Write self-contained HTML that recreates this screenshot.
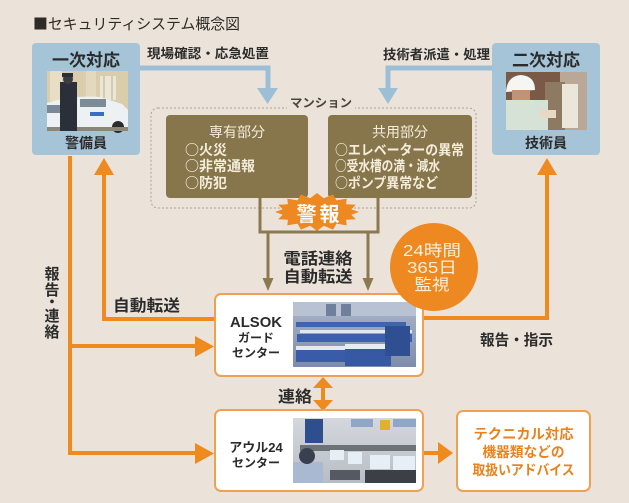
<!DOCTYPE html>
<html><head><meta charset="utf-8">
<style>
html,body{margin:0;padding:0;background:#ebe3d9;}
svg{display:block;}
text{font-family:"Liberation Sans","Noto Sans CJK JP",sans-serif;}
.j{font-family:"Noto Sans CJK JP","Liberation Sans",sans-serif;}
.b{font-weight:bold;}
</style></head>
<body>
<svg width="629" height="503" viewBox="0 0 629 503" xmlns="http://www.w3.org/2000/svg">
<defs>
<linearGradient id="ga" x1="0" y1="0" x2="0" y2="1"><stop offset="0" stop-color="#aab6ca"/><stop offset="1" stop-color="#7d8cab"/></linearGradient>
<linearGradient id="gb" x1="0" y1="0" x2="0" y2="1"><stop offset="0" stop-color="#d4d8de"/><stop offset="1" stop-color="#b8bcc4"/></linearGradient>
</defs>
<rect width="629" height="503" fill="#ebe3d9"/>

<!-- title -->
<text x="33" y="29" font-size="15" class="j" fill="#2e2a26" textLength="207" lengthAdjust="spacingAndGlyphs">■セキュリティシステム概念図</text>

<!-- blue arrows -->
<path d="M139,68 H268 V92" fill="none" stroke="#9dbfd6" stroke-width="5"/>
<polygon points="257,88 278,88 267.5,104" fill="#9dbfd6"/>
<path d="M493,68 H388 V92" fill="none" stroke="#9dbfd6" stroke-width="5"/>
<polygon points="378,88 398,88 388,104" fill="#9dbfd6"/>
<text x="147" y="58" font-size="13" class="b" fill="#2b2b2b" textLength="122" lengthAdjust="spacingAndGlyphs">現場確認・応急処置</text>
<text x="383" y="59" font-size="13" class="b" fill="#2b2b2b" textLength="107" lengthAdjust="spacingAndGlyphs">技術者派遣・処理</text>

<!-- 一次対応 box -->
<rect x="32" y="43" width="108" height="112" rx="4" fill="#a5c4d7"/>
<text x="86" y="66" font-size="17" class="b" fill="#2b2b2b" text-anchor="middle">一次対応</text>
<g>
<rect x="47" y="71" width="81" height="60" fill="#d9cdab"/>
<rect x="50" y="71" width="12" height="30" fill="#e8dec4"/>
<rect x="86" y="71" width="10" height="30" fill="#e4d9bd"/>
<rect x="100" y="76" width="16" height="24" fill="#ece6d6"/>
<line x1="104" y1="76" x2="104" y2="100" stroke="#b8b09a" stroke-width="1"/>
<line x1="112" y1="76" x2="112" y2="100" stroke="#b8b09a" stroke-width="1"/>
<path d="M47,103 Q70,95 100,97 L122,104 L128,110 V127 H47 Z" fill="#eef1f3"/>
<rect x="80" y="99" width="26" height="8" fill="#7d8b98"/>
<rect x="47" y="105" width="14" height="8" fill="#7a8898"/>
<rect x="90" y="112" width="14" height="4" fill="#3a6ec0"/>
<circle cx="118" cy="127" r="6" fill="#2c2c2c"/>
<rect x="47" y="127" width="81" height="4" fill="#8b8676"/>
<rect x="60" y="82" width="17" height="49" fill="#2a2f3a"/>
<circle cx="68" cy="79" r="5" fill="#3b3d44"/>
<rect x="62" y="73" width="11" height="4" fill="#2a2e38"/>
</g>
<text x="86" y="148" font-size="14" class="b" fill="#2b2b2b" text-anchor="middle">警備員</text>

<!-- 二次対応 box -->
<rect x="492" y="43" width="108" height="112" rx="4" fill="#a5c4d7"/>
<text x="546" y="66" font-size="17" class="b" fill="#2b2b2b" text-anchor="middle">二次対応</text>
<g>
<rect x="506" y="72" width="81" height="58" fill="#7a5a46"/>
<rect x="560" y="72" width="27" height="58" fill="#b9a898"/>
<rect x="545" y="82" width="20" height="48" fill="#8e7a62"/>
<rect x="562" y="84" width="16" height="44" fill="#ebe6da"/>
<rect x="506" y="100" width="42" height="30" fill="#d7e2d6"/>
<path d="M506,92 Q507,76 521,75 Q535,76 535,90 Z" fill="#f5f5f2"/>
<rect x="512" y="90" width="18" height="10" fill="#c39274"/>
<rect x="540" y="110" width="16" height="8" fill="#e7d9c4"/>
</g>
<text x="546" y="148" font-size="14" class="b" fill="#2b2b2b" text-anchor="middle">技術員</text>

<!-- mansion dashed box -->
<rect x="151" y="108" width="325" height="100" rx="7" fill="none" stroke="#aaa39a" stroke-width="1" stroke-dasharray="2,2"/>
<rect x="287" y="100" width="68" height="12" fill="#ebe3d9"/>
<text x="321" y="107" font-size="12" class="b" fill="#4b4540" text-anchor="middle" textLength="62" lengthAdjust="spacingAndGlyphs">マンション</text>

<rect x="166" y="115" width="142" height="83" rx="4" fill="#87754b"/>
<text x="237" y="137" font-size="14" fill="#f4eddb" text-anchor="middle">専有部分</text>
<text x="185" y="155" font-size="14" class="b j" fill="#f4eddb">○火災</text>
<text x="185" y="171" font-size="14" class="b j" fill="#f4eddb">○非常通報</text>
<text x="185" y="188" font-size="14" class="b j" fill="#f4eddb">○防犯</text>

<rect x="328" y="115" width="144" height="83" rx="4" fill="#87754b"/>
<text x="400" y="137" font-size="14" fill="#f4eddb" text-anchor="middle">共用部分</text>
<text x="335" y="155" font-size="14" class="b j" fill="#f4eddb" textLength="129" lengthAdjust="spacingAndGlyphs">○エレベーターの異常</text>
<text x="335" y="171" font-size="14" class="b j" fill="#f4eddb" textLength="105" lengthAdjust="spacingAndGlyphs">○受水槽の満・減水</text>
<text x="335" y="188" font-size="14" class="b j" fill="#f4eddb" textLength="103" lengthAdjust="spacingAndGlyphs">○ポンプ異常など</text>

<!-- olive bracket & arrows -->
<path d="M260,198 V232 H378 V198" fill="none" stroke="#8b7a50" stroke-width="3"/>
<path d="M268,232 V281" fill="none" stroke="#8b7a50" stroke-width="3"/>
<polygon points="262.5,278 273.5,278 268,291" fill="#8b7a50"/>
<path d="M368,232 V281" fill="none" stroke="#8b7a50" stroke-width="3"/>
<polygon points="362.5,278 373.5,278 368,291" fill="#8b7a50"/>

<!-- 警報 badge -->
<polygon points="359,212 351.3,214.7 355.8,219.3 346.1,219.8 346.7,225.4 336.5,223.6 333.1,229.6 323.8,225.7 317,231 310.2,225.7 300.9,229.6 297.5,223.6 287.3,225.4 287.9,219.8 278.2,219.3 282.7,214.7 275,212 282.7,209.3 278.2,204.7 287.9,204.2 287.3,198.6 297.5,200.4 300.9,194.4 310.2,198.3 317,193 323.8,198.3 333.1,194.4 336.5,200.4 346.7,198.6 346.1,204.2 355.8,204.7 351.3,209.3" fill="#ee8820"/>
<text x="318" y="221" font-size="20" class="b" fill="#fff" text-anchor="middle" textLength="43" lengthAdjust="spacing">警報</text>

<text x="318" y="264" font-size="16" class="b" fill="#2b2b2b" text-anchor="middle" textLength="69" lengthAdjust="spacingAndGlyphs">電話連絡</text>
<text x="318" y="282" font-size="16" class="b" fill="#2b2b2b" text-anchor="middle" textLength="69" lengthAdjust="spacingAndGlyphs">自動転送</text>

<!-- orange connectors -->
<g stroke="#ef8a1f" stroke-width="4" fill="none">
<path d="M423,318 H547 V172"/>
<path d="M215,319 H104 V172"/>
<path d="M70,156 V453 H198"/>
<path d="M70,346 H198"/>
<path d="M323,386 V402"/>
<path d="M423,453 H440"/>
</g>
<g fill="#ef8a1f">
<polygon points="537,175 557,175 547,158"/>
<polygon points="94,175 114,175 104,158"/>
<polygon points="195,336 195,357 214,346.5"/>
<polygon points="195,443 195,464 214,453.5"/>
<polygon points="313,388 333,388 323,377"/>
<polygon points="313,400 333,400 323,411"/>
<polygon points="438,442 438,464 453,453"/>
</g>

<text x="113" y="311" font-size="16" class="b" fill="#2b2b2b" textLength="67" lengthAdjust="spacingAndGlyphs">自動転送</text>
<text x="480" y="345" font-size="15" class="b" fill="#2b2b2b" textLength="73" lengthAdjust="spacingAndGlyphs">報告・指示</text>
<text x="278" y="402" font-size="16" class="b" fill="#2b2b2b" textLength="34" lengthAdjust="spacingAndGlyphs">連絡</text>
<g font-size="15" class="b" fill="#2b2b2b" text-anchor="middle">
<text x="52" y="279" class="b">報</text>
<text x="52" y="295" class="b">告</text>
<text x="52" y="307" class="b">・</text>
<text x="52" y="321" class="b">連</text>
<text x="52" y="337" class="b">絡</text>
</g>

<!-- ALSOK box -->
<rect x="215" y="294" width="208" height="82" rx="6" fill="#fff" stroke="#f0a052" stroke-width="2"/>
<text x="256" y="327" font-size="15" class="b" fill="#2b2b2b" text-anchor="middle" textLength="52" lengthAdjust="spacingAndGlyphs">ALSOK</text>
<text x="256" y="342" font-size="12" class="b" fill="#2b2b2b" text-anchor="middle">ガード</text>
<text x="256" y="357" font-size="12" class="b" fill="#2b2b2b" text-anchor="middle">センター</text>
<g>
<rect x="293" y="302" width="123" height="65" fill="url(#ga)"/>
<rect x="293" y="302" width="123" height="14" fill="#b9c2d2"/>
<rect x="326" y="304" width="10" height="12" fill="#6f7f9c"/>
<rect x="341" y="304" width="10" height="12" fill="#6f7f9c"/>
<rect x="296" y="322" width="110" height="5" fill="#3f64b0"/>
<rect x="300" y="330" width="112" height="3" fill="#e3e8ef"/>
<rect x="297" y="334" width="115" height="8" fill="#3d60ad"/>
<rect x="296" y="346" width="60" height="4" fill="#e6eaf0"/>
<rect x="296" y="350" width="56" height="12" fill="#3a5ca8"/>
<rect x="345" y="344" width="50" height="5" fill="#e9edf3"/>
<rect x="345" y="349" width="46" height="17" fill="#3759a4"/>
<rect x="385" y="326" width="25" height="30" fill="#2f4f92"/>
</g>

<!-- アウル24 box -->
<rect x="215" y="410" width="208" height="81" rx="6" fill="#fff" stroke="#f0a052" stroke-width="2"/>
<text x="256" y="452" font-size="13" class="b" fill="#2b2b2b" text-anchor="middle">アウル24</text>
<text x="256" y="467" font-size="12" class="b" fill="#2b2b2b" text-anchor="middle">センター</text>
<g>
<rect x="293" y="418" width="123" height="65" fill="url(#gb)"/>
<rect x="305" y="419" width="18" height="24" fill="#2d4f8e"/>
<rect x="351" y="419" width="22" height="8" fill="#8fa6c8"/>
<rect x="380" y="420" width="10" height="10" fill="#e0b030"/>
<rect x="393" y="419" width="23" height="8" fill="#8fa6c8"/>
<rect x="300" y="445" width="116" height="6" fill="#6d7178"/>
<rect x="330" y="450" width="14" height="10" fill="#e8eef6"/>
<rect x="348" y="452" width="14" height="12" fill="#e8eef6"/>
<rect x="370" y="455" width="20" height="14" fill="#e8eef6"/>
<rect x="393" y="456" width="22" height="15" fill="#e8eef6"/>
<rect x="365" y="470" width="51" height="13" fill="#3c3f46"/>
<rect x="293" y="462" width="30" height="21" fill="#a9b9d2"/>
<circle cx="307" cy="456" r="8" fill="#3b4050"/>
<rect x="330" y="470" width="30" height="10" fill="#555a62"/>
</g>

<!-- tech box -->
<rect x="457" y="411" width="133" height="80" rx="6" fill="#fff" stroke="#f0a052" stroke-width="2"/>
<text x="523.5" y="439" font-size="14" class="b" fill="#e8821e" text-anchor="middle" textLength="100" lengthAdjust="spacingAndGlyphs">テクニカル対応</text>
<text x="523.5" y="457" font-size="14" class="b" fill="#e8821e" text-anchor="middle" textLength="82" lengthAdjust="spacingAndGlyphs">機器類などの</text>
<text x="523.5" y="475" font-size="14" class="b" fill="#e8821e" text-anchor="middle" textLength="102" lengthAdjust="spacingAndGlyphs">取扱いアドバイス</text>

<!-- 24h circle -->
<circle cx="434" cy="267" r="44" fill="#ee8820"/>
<text x="432" y="256" font-size="16" fill="#fcf0dc" text-anchor="middle" textLength="58" lengthAdjust="spacingAndGlyphs">24時間</text>
<text x="432" y="273" font-size="16" fill="#fcf0dc" text-anchor="middle" textLength="50" lengthAdjust="spacingAndGlyphs">365日</text>
<text x="432" y="290" font-size="16" fill="#fcf0dc" text-anchor="middle" textLength="35" lengthAdjust="spacingAndGlyphs">監視</text>
</svg>
</body></html>
